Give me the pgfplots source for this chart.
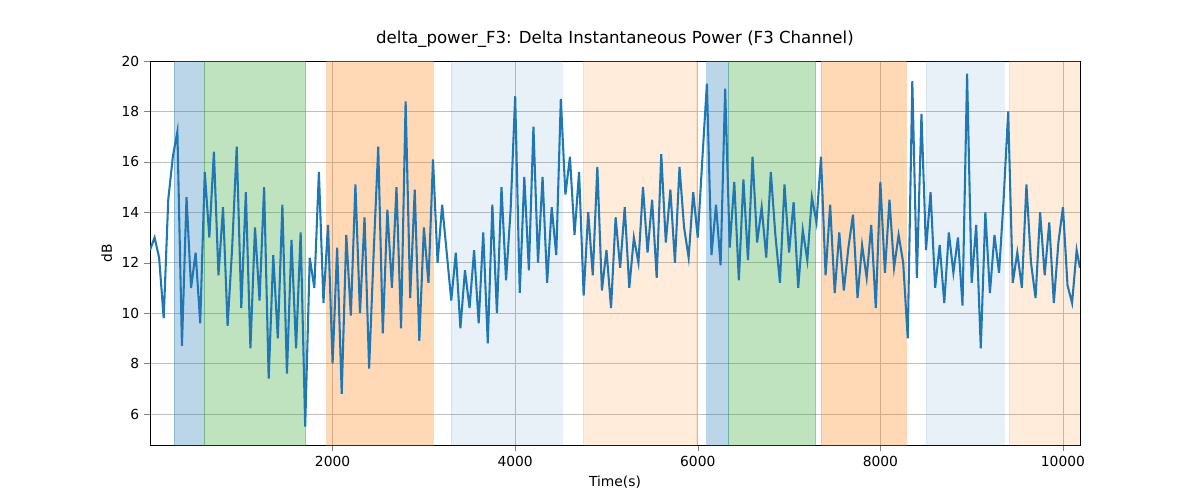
\documentclass[border=0pt]{standalone}
\usepackage{pgfplots}
\pgfplotsset{compat=1.18}
\usepackage{fontspec}
\setmainfont{DejaVu Sans}
\definecolor{C0}{HTML}{1F77B4}
\definecolor{C1}{HTML}{FF7F0E}
\definecolor{C2}{HTML}{2CA02C}
\begin{document}
\begin{tikzpicture}
\path[use as bounding box] (-3.81cm,-1.397cm) rectangle (26.67cm,11.303cm);
\begin{axis}[at={(0,0)},anchor=south west,scale only axis,width=23.62cm,height=9.754cm,
 xmin=0,xmax=10186,ymin=4.77,ymax=20,
 xtick={2000,4000,6000,8000,10000},ytick={6,8,10,12,14,16,18,20},
 scaled x ticks=false,
 grid=major,grid style={gray!50},
 /pgf/number format/assume math mode=true,
 /pgf/number format/1000 sep={},
 tick label style={font=\fontsize{10}{12}\selectfont},
 label style={font=\fontsize{10}{12}\selectfont},
 title style={font=\fontsize{12}{14}\selectfont},
 xlabel={Time(s)},ylabel={dB},
 title={delta\_power\_F3: Delta Instantaneous Power (F3 Channel)},
 tick align=outside, tick pos=lower]
\addplot[fill=C0,fill opacity=0.3,draw=C0,draw opacity=0.3] coordinates {(262,4.77)(590,4.77)(590,20)(262,20)} -- cycle;
\addplot[fill=C2,fill opacity=0.3,draw=C2,draw opacity=0.3] coordinates {(590,4.77)(1705,4.77)(1705,20)(590,20)} -- cycle;
\addplot[fill=C1,fill opacity=0.3,draw=C1,draw opacity=0.3] coordinates {(1934,4.77)(3104,4.77)(3104,20)(1934,20)} -- cycle;
\addplot[fill=C0,fill opacity=0.1,draw=C0,draw opacity=0.1] coordinates {(3300,4.77)(4514,4.77)(4514,20)(3300,20)} -- cycle;
\addplot[fill=C1,fill opacity=0.15,draw=C1,draw opacity=0.15] coordinates {(4743,4.77)(5989,4.77)(5989,20)(4743,20)} -- cycle;
\addplot[fill=C0,fill opacity=0.3,draw=C0,draw opacity=0.3] coordinates {(6098,4.77)(6339,4.77)(6339,20)(6098,20)} -- cycle;
\addplot[fill=C2,fill opacity=0.3,draw=C2,draw opacity=0.3] coordinates {(6339,4.77)(7290,4.77)(7290,20)(6339,20)} -- cycle;
\addplot[fill=C1,fill opacity=0.3,draw=C1,draw opacity=0.3] coordinates {(7355,4.77)(8284,4.77)(8284,20)(7355,20)} -- cycle;
\addplot[fill=C0,fill opacity=0.1,draw=C0,draw opacity=0.1] coordinates {(8503,4.77)(9355,4.77)(9355,20)(8503,20)} -- cycle;
\addplot[fill=C1,fill opacity=0.15,draw=C1,draw opacity=0.15] coordinates {(9410,4.77)(10186,4.77)(10186,20)(9410,20)} -- cycle;
\addplot[C0,line width=1.5pt] table {
0 12.5
50 13.0
100 12.2
150 9.8
200 14.5
250 16.2
300 17.2
350 8.7
400 14.6
450 11.0
500 12.4
550 9.6
600 15.6
650 13.0
700 16.4
750 11.5
800 14.2
850 9.5
900 12.6
950 16.6
1000 10.2
1050 14.8
1100 8.6
1150 13.4
1200 10.5
1250 15.0
1300 7.4
1350 12.3
1400 9.0
1450 14.3
1500 7.6
1550 12.9
1600 8.6
1650 13.2
1700 5.5
1750 12.2
1800 11.0
1850 15.6
1900 10.4
1950 13.5
2000 8.0
2050 12.6
2100 6.8
2150 13.1
2200 9.9
2250 15.1
2300 10.0
2350 13.8
2400 7.8
2450 12.4
2500 16.6
2550 9.2
2600 14.1
2650 11.0
2700 15.0
2750 9.4
2800 18.4
2850 10.6
2900 14.9
2950 8.9
3000 13.4
3050 11.2
3100 16.1
3150 12.0
3200 14.3
3250 12.4
3300 10.5
3350 12.4
3400 9.4
3450 11.7
3500 10.2
3550 12.5
3600 9.6
3650 13.2
3700 8.8
3750 14.3
3800 10.0
3850 15.0
3900 11.3
3950 14.1
4000 18.6
4050 10.8
4100 15.4
4150 11.7
4200 17.4
4250 12.0
4300 15.4
4350 11.2
4400 14.2
4450 12.3
4500 18.5
4550 14.7
4600 16.2
4650 13.1
4700 15.6
4750 10.7
4800 14.0
4850 11.5
4900 15.8
4950 10.9
5000 12.5
5050 10.2
5100 13.8
5150 11.8
5200 14.2
5250 11.0
5300 13.0
5350 12.0
5400 15.0
5450 12.4
5500 14.5
5550 11.4
5600 16.3
5650 12.8
5700 14.9
5750 12.0
5800 15.8
5850 13.4
5900 12.2
5950 14.8
6000 13.0
6050 16.1
6100 19.1
6150 12.3
6200 14.3
6250 11.9
6300 18.9
6350 12.6
6400 15.2
6450 11.3
6500 15.3
6550 12.1
6600 16.2
6650 12.8
6700 14.2
6750 12.2
6800 15.6
6850 13.1
6900 11.2
6950 15.1
7000 12.4
7050 14.4
7100 11.0
7150 13.3
7200 12.1
7250 14.6
7300 13.6
7350 16.2
7400 11.5
7450 14.3
7500 10.8
7550 13.2
7600 10.9
7650 12.6
7700 13.9
7750 10.6
7800 12.7
7850 11.4
7900 13.5
7950 10.2
8000 15.2
8050 11.6
8100 14.5
8150 11.8
8200 13.1
8250 12.0
8300 9.0
8350 19.2
8400 11.4
8450 17.9
8500 12.5
8550 14.8
8600 11.0
8650 12.7
8700 10.4
8750 13.2
8800 11.6
8850 13.0
8900 10.3
8950 19.5
9000 11.2
9050 13.5
9100 8.6
9150 14.0
9200 10.8
9250 13.1
9300 11.6
9350 14.5
9400 18.0
9450 11.2
9500 12.4
9550 11.0
9600 15.1
9650 12.0
9700 10.6
9750 14.0
9800 11.5
9850 13.6
9900 10.4
9950 12.8
10000 14.2
10050 11.1
10100 10.4
10150 12.5
10186 11.8
};
\end{axis}
\end{tikzpicture}
\end{document}
